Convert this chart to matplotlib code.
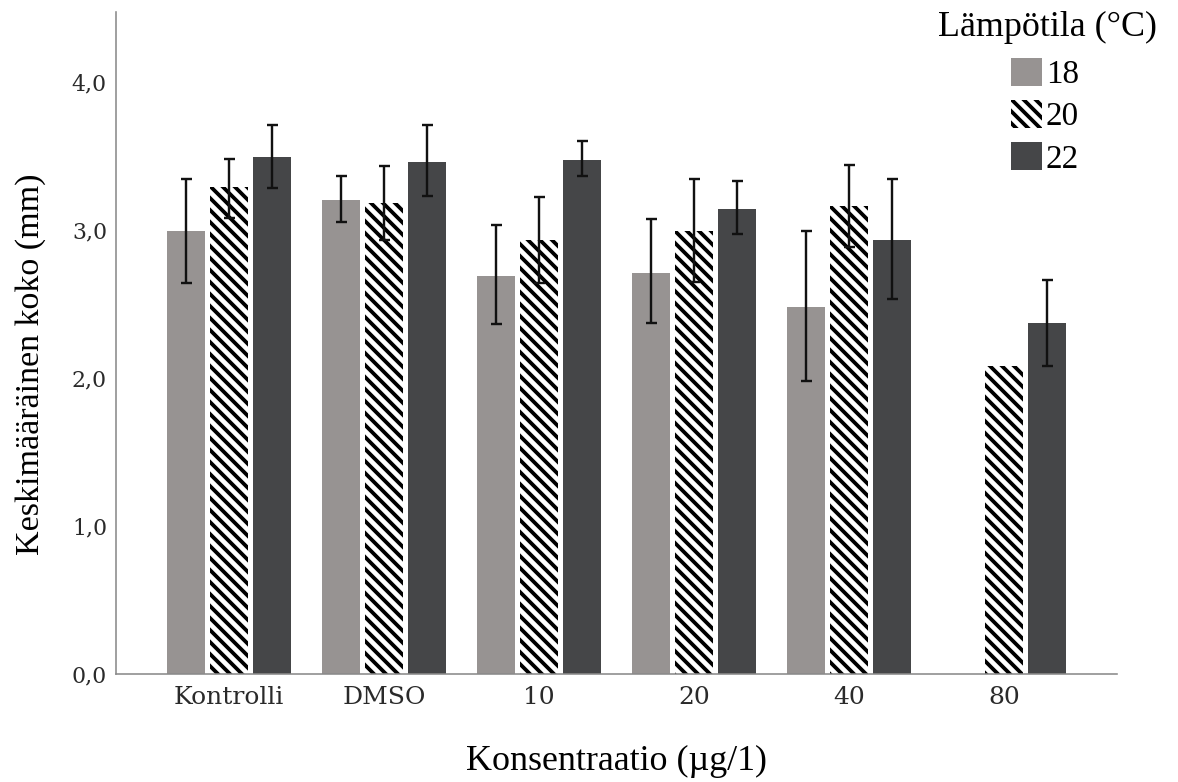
import numpy as np
import matplotlib
matplotlib.use("Agg")
from matplotlib import pyplot as plt
from matplotlib.patches import Patch

categories = ["Kontrolli", "DMSO", "10", "20", "40", "80"]
temps = ["18", "20", "22"]

# mean size (mm) per concentration, one list per temperature
mean_18 = [2.99, 3.20, 2.69, 2.71, 2.48, np.nan]
mean_20 = [3.29, 3.18, 2.93, 2.99, 3.16, 2.08]
mean_22 = [3.49, 3.46, 3.47, 3.14, 2.93, 2.37]

# error bar ends (low, high)
low_18 = [2.64, 3.05, 2.36, 2.37, 1.98, np.nan]
high_18 = [3.34, 3.36, 3.03, 3.07, 2.99, np.nan]
low_20 = [3.08, 2.93, 2.64, 2.65, 2.88, np.nan]
high_20 = [3.48, 3.43, 3.22, 3.34, 3.44, np.nan]
low_22 = [3.28, 3.23, 3.36, 2.97, 2.53, 2.08]
high_22 = [3.71, 3.71, 3.60, 3.33, 3.34, 2.66]

plt.rcParams['hatch.linewidth'] = 3.8
plt.rcParams['hatch.color'] = 'black'

W, H = 1178, 782
fig = plt.figure(figsize=(W / 72, H / 72), dpi=72)
ax = fig.add_axes([116 / W, 1 - 674 / H, (1117 - 116) / W, (674 - 12) / H])

x = np.arange(len(categories))
w = 0.245
off = 0.277
hatch = '\\\\'

styles = [
    dict(color='#979392', hatch=None, edgecolor='#979392'),
    dict(color='white', hatch=hatch, edgecolor='black'),
    dict(color='#454648', hatch=None, edgecolor='#454648'),
]
means = [mean_18, mean_20, mean_22]
lows = [low_18, low_20, low_22]
highs = [high_18, high_20, high_22]

for i in range(3):
    xi = x + (i - 1) * off
    m = np.array(means[i])
    st = styles[i]
    ax.bar(xi, m, width=w, color=st['color'], hatch=st['hatch'],
           edgecolor=st['edgecolor'], linewidth=0, zorder=2)
    lo = np.array(lows[i])
    hi = np.array(highs[i])
    ok = ~np.isnan(lo)
    yerr = np.vstack([m[ok] - lo[ok], hi[ok] - m[ok]])
    ax.errorbar(xi[ok], m[ok], yerr=yerr, fmt='none', ecolor='#111111',
                elinewidth=2.4, capsize=5.5, capthick=2.4, zorder=3)

ax.set_xlim(-0.73, 5.73)
ax.set_ylim(0, 4.47)
ax.set_yticks([0, 1, 2, 3, 4])
ax.set_yticklabels(["0,0", "1,0", "2,0", "3,0", "4,0"])
ax.set_xticks(x)
ax.set_xticklabels(categories)

for lbl in ax.get_xticklabels():
    lbl.set_fontfamily('DejaVu Serif')
    lbl.set_fontsize(25)
    lbl.set_color('#2a2a2a')
for lbl in ax.get_yticklabels():
    lbl.set_fontfamily('DejaVu Serif')
    lbl.set_fontsize(22)
    lbl.set_color('#2a2a2a')
ax.tick_params(axis='both', length=0)
ax.tick_params(axis='x', pad=12)
ax.tick_params(axis='y', pad=9)

for s in ['top', 'right']:
    ax.spines[s].set_visible(False)
for s in ['left', 'bottom']:
    ax.spines[s].set_color('#8a8a8a')
    ax.spines[s].set_linewidth(1.6)

ax.set_xlabel("Konsentraatio (µg/1)", fontfamily='Liberation Serif', fontsize=36)
ax.xaxis.set_label_coords(0.5, -0.107)
ax.set_ylabel("Keskimääräinen koko (mm)", fontfamily='Liberation Serif', fontsize=34)
ax.yaxis.set_label_coords(-0.070, 0.468)

# legend title drawn on its own, entries below it
fig.text(1047 / W, 1 - 27 / H, "Lämpötila (°C)", ha='center', va='center',
         fontfamily='Liberation Serif', fontsize=36)

handles = [
    Patch(facecolor='#979392', edgecolor='#979392', linewidth=0),
    Patch(facecolor='white', edgecolor='black', hatch=hatch, linewidth=0),
    Patch(facecolor='#454648', edgecolor='#454648', linewidth=0),
]
leg = ax.legend(handles, temps, loc='upper left',
                bbox_to_anchor=(1011 / W, 1 - 58 / H), bbox_transform=fig.transFigure,
                frameon=False, prop={'family': 'Liberation Serif', 'size': 33},
                handlelength=0.95, handleheight=0.92, handletextpad=0.1,
                labelspacing=0.30, borderpad=0, borderaxespad=0)

fig.savefig("out.png", dpi=72)
